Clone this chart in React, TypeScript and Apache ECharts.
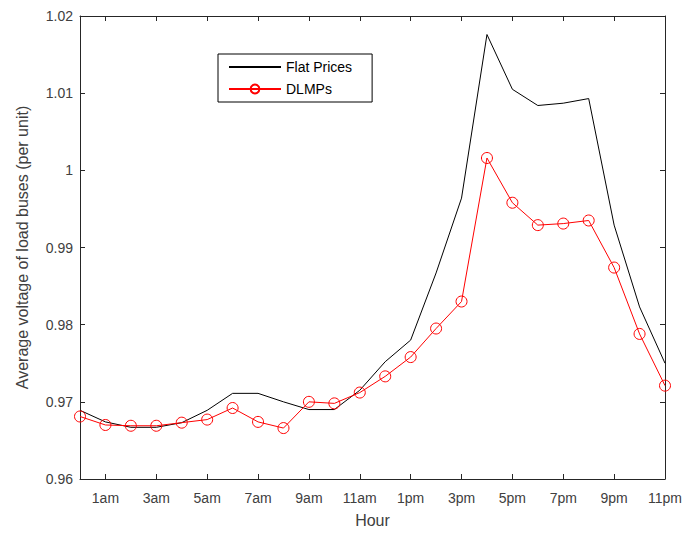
import React, { useEffect, useRef } from "react";
import * as echarts from "echarts";

const hours: string[] = [
  "12am", "1am", "2am", "3am", "4am", "5am", "6am", "7am", "8am", "9am", "10am", "11am",
  "12pm", "1pm", "2pm", "3pm", "4pm", "5pm", "6pm", "7pm", "8pm", "9pm", "10pm", "11pm",
];

const flatPrices: number[] = [
  0.9689, 0.9674, 0.9667, 0.9667, 0.9673, 0.9689, 0.9711, 0.9711, 0.9700, 0.9690, 0.9690, 0.9715,
  0.9752, 0.9780, 0.9867, 0.9964, 1.0176, 1.0105, 1.0084, 1.0087, 1.0093, 0.9929, 0.9823, 0.9750,
];

const dlmps: number[] = [
  0.9681, 0.9670, 0.9669, 0.9669, 0.9673, 0.9677, 0.9692, 0.9674, 0.9666, 0.9700, 0.9698, 0.9712,
  0.9733, 0.9758, 0.9795, 0.9830, 1.0016, 0.9958, 0.9929, 0.9931, 0.9935, 0.9874, 0.9788, 0.9721,
];

const yMin = 0.96;
const yMax = 1.02;
const yStep = 0.01;

export default function App() {
  const ref = useRef<HTMLDivElement>(null);

  useEffect(() => {
    if (!ref.current) return;
    const chart = echarts.init(ref.current, null, { renderer: "svg" });
    const axisColor = "#262626";
    const labelColor = "#404040";
    const font = "Liberation Sans, Arial, sans-serif";
    const oddOnly = (i: number) => i % 2 === 1;
    chart.setOption({
      animation: false,
      backgroundColor: "#ffffff",
      textStyle: { fontFamily: font },
      grid: { left: 80, right: 24, top: 16, bottom: 55, containLabel: false },
      legend: {
        left: 218,
        top: 54,
        orient: "vertical",
        backgroundColor: "#ffffff",
        borderColor: "#000000",
        borderWidth: 1,
        borderRadius: 0,
        padding: [6, 20, 6, 10],
        itemWidth: 52,
        itemHeight: 11,
        itemGap: 8,
        textStyle: { fontSize: 14, color: "#000000", fontFamily: font },
        data: [
          { name: "Flat Prices", itemStyle: { opacity: 0 } },
          { name: "DLMPs" },
        ],
      },
      xAxis: [
        {
          type: "category",
          data: hours,
          boundaryGap: false,
          position: "bottom",
          name: "Hour",
          nameLocation: "middle",
          nameGap: 33,
          nameTextStyle: { fontSize: 16, color: labelColor, fontFamily: font },
          axisLine: { lineStyle: { color: axisColor, width: 1 } },
          axisTick: { inside: true, length: 5, interval: oddOnly, lineStyle: { color: axisColor } },
          axisLabel: { interval: oddOnly, margin: 12, fontSize: 14, color: labelColor, fontFamily: font },
          splitLine: { show: false },
        },
        {
          type: "category",
          data: hours,
          boundaryGap: false,
          position: "top",
          axisLine: { lineStyle: { color: axisColor, width: 1 } },
          axisTick: { inside: true, length: 5, interval: oddOnly, lineStyle: { color: axisColor } },
          axisLabel: { show: false },
          splitLine: { show: false },
        },
      ],
      yAxis: [
        {
          type: "value",
          min: yMin,
          max: yMax,
          interval: yStep,
          position: "left",
          name: "Average voltage of load buses (per unit)",
          nameLocation: "middle",
          nameGap: 50,
          nameTextStyle: { fontSize: 16, color: labelColor, fontFamily: font },
          axisLine: { show: true, lineStyle: { color: axisColor, width: 1 } },
          axisTick: { show: true, inside: true, length: 5, lineStyle: { color: axisColor } },
          axisLabel: {
            margin: 7,
            fontSize: 14,
            color: labelColor,
            fontFamily: font,
            formatter: (v: number) => String(+v.toFixed(2)),
          },
          splitLine: { show: false },
        },
        {
          type: "value",
          min: yMin,
          max: yMax,
          interval: yStep,
          position: "right",
          axisLine: { show: true, lineStyle: { color: axisColor, width: 1 } },
          axisTick: { show: true, inside: true, length: 5, lineStyle: { color: axisColor } },
          axisLabel: { show: false },
          splitLine: { show: false },
        },
      ],
      series: [
        {
          name: "Flat Prices",
          type: "line",
          data: flatPrices,
          xAxisIndex: 0,
          yAxisIndex: 0,
          symbol: "none",
          lineStyle: { color: "#000000", width: 1 },
          itemStyle: { color: "#000000" },
        },
        {
          name: "DLMPs",
          type: "line",
          data: dlmps,
          xAxisIndex: 0,
          yAxisIndex: 0,
          symbol: "circle",
          symbolSize: 11,
          showAllSymbol: true,
          lineStyle: { color: "#ff0000", width: 1 },
          itemStyle: { color: "rgba(255,255,255,0)", borderColor: "#ff0000", borderWidth: 1 },
        },
      ],
    });
    return () => chart.dispose();
  }, []);

  return <div ref={ref} style={{ width: 689, height: 534, position: "absolute", left: 0, top: 0 }} />;
}
